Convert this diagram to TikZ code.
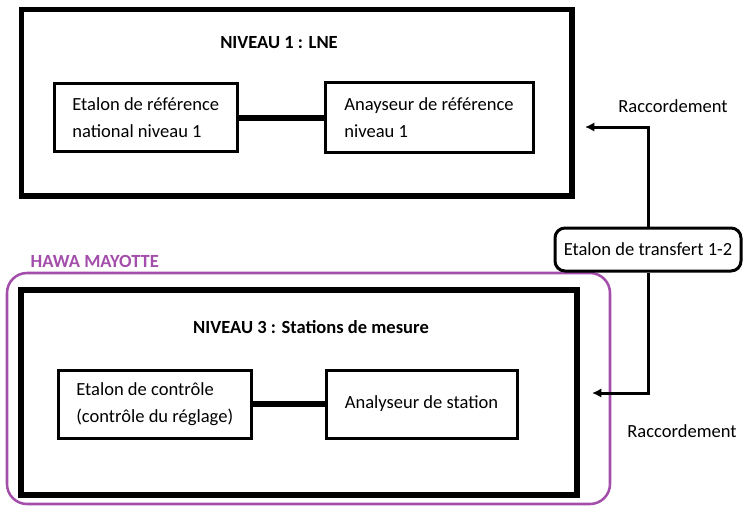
\documentclass[tikz,border=0pt]{standalone}
\usepackage{fontspec}
\setmainfont{Carlito}
\usetikzlibrary{arrows.meta}
\definecolor{hawa}{RGB}{163,78,170}
\tikzset{
  outerbox/.style={draw, line width=3.9pt, minimum width=#1, inner sep=0pt},
  innerbox/.style={draw, line width=2.25pt, align=left, inner sep=0pt, font=\fontsize{13.9}{20}\selectfont},
  link/.style={line width=4.5pt},
  title/.style={font=\fontsize{13.9}{17}\selectfont\bfseries},
  plain/.style={font=\fontsize{13.9}{17}\selectfont},
  raccord/.style={line width=2.25pt, -{Latex[length=7pt,width=7pt]}},
}
\begin{document}
\begin{tikzpicture}[x=0.75pt,y=-0.75pt]
\useasboundingbox (0,0) rectangle (750,507);
% purple group
\node[draw=hawa, line width=1.9pt, rounded corners=15pt, minimum width=452.25pt, minimum height=173.25pt] (hawa) at (308.5,388.5) {};
\node[title, text=hawa, anchor=west] (hawalabel) at (26,261) {HAWA MAYOTTE};
% level 1
\node[outerbox=412.9pt, minimum height=139.9pt] (niv1) at (296.75,102.75) {};
\node[title] (t1) at (279,43) {NIVEAU 1 : LNE};
\node[innerbox, minimum width=136.9pt, minimum height=51pt] (e1) at (145.75,117.5) {Etalon de référence\\national niveau 1};
\node[innerbox, minimum width=156pt, minimum height=52.5pt] (a1) at (429,117.5) {Anayseur de référence\\niveau 1};
\draw[link] (e1) -- (a1);
% level 3
\node[outerbox=417pt, minimum height=153.75pt] (niv3) at (299,392.5) {};
\node[title] (t3) at (311,327) {NIVEAU 3 : Stations de mesure};
\node[innerbox, minimum width=144.4pt, minimum height=51pt] (e3) at (154.75,404) {Etalon de contrôle\\(contrôle du réglage)};
\node[innerbox, minimum width=143.25pt, minimum height=51pt] (a3) at (421.5,404) {Analyseur de station};
\draw[link] (e3) -- (a3);
% transfer
\node[draw, line width=2.25pt, rounded corners=7.5pt, minimum width=139.5pt, minimum height=32.25pt, inner sep=0pt, plain] (tr) at (648,249.5) {Etalon de transfert 1-2};
\coordinate (up) at (585,127);
\coordinate (down) at (592,393);
\draw[raccord] (tr.north) |- (up);
\draw[raccord] (tr.south) |- (down);
\node[plain] (r1) at (673,106) {Raccordement};
\node[plain] (r2) at (682,431) {Raccordement};
\end{tikzpicture}
\end{document}
